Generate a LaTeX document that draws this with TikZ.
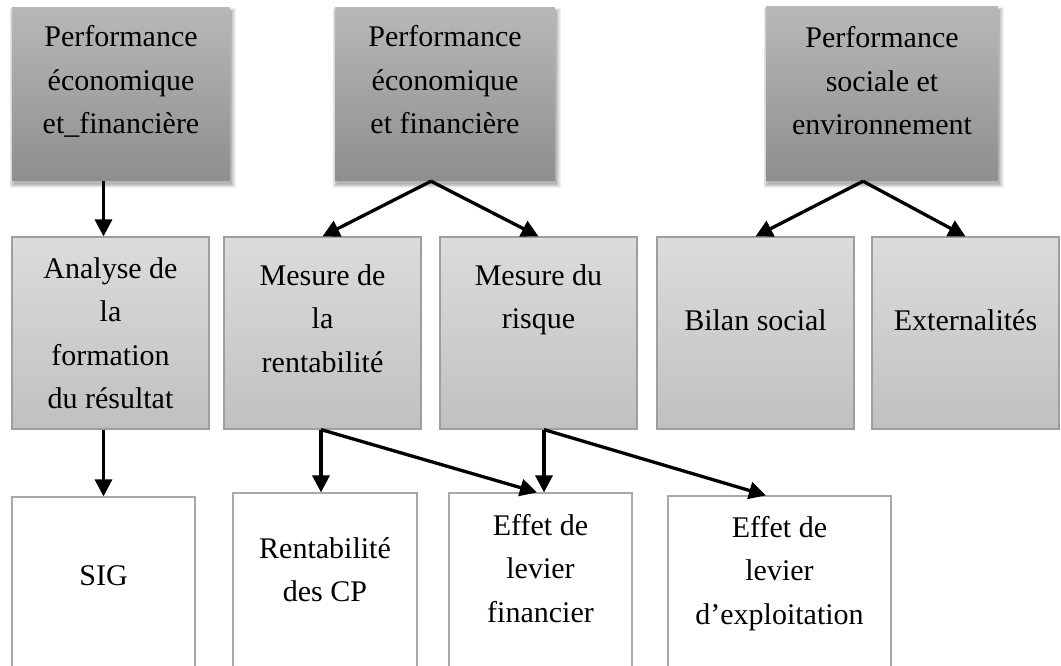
\documentclass[tikz,border=0pt]{standalone}
\usepackage{fontspec}
\setmainfont{Liberation Serif}
\usetikzlibrary{arrows.meta}

\definecolor{topA}{RGB}{184,184,184}
\definecolor{topB}{RGB}{142,142,142}
\definecolor{midA}{RGB}{220,220,220}
\definecolor{midB}{RGB}{192,192,192}
\definecolor{midLine}{RGB}{158,158,158}
\definecolor{lowLine}{RGB}{168,168,168}

\tikzset{
  topbox/.style={rectangle, inner sep=0pt, top color=topA, bottom color=topB, draw=none},
  midbox/.style={rectangle, inner sep=0pt, top color=midA, bottom color=midB, draw=midLine, line width=1.2pt},
  lowbox/.style={rectangle, inner sep=0pt, fill=white, draw=lowLine, line width=1.2pt},
  % labels are placed by the baseline of their last line
  lbl/.style={anchor=base, align=center, inner sep=0pt, font=\fontsize{30}{43.5}\selectfont},
  link/.style={line width=3.3pt, -{Triangle[length=17pt,width=17pt]}},
}

\newcommand{\softshadow}[4]{% x1 y1 x2 y2 of the box
  \foreach \g in {0,1,...,5}{
    \fill[black, opacity=0.055] (#1+1.5-\g*0.8, #2+3-\g*0.5) rectangle (#3+1.5+\g*0.8, #4+3+\g*0.8);
  }}

\begin{document}
\begin{tikzpicture}[x=1pt, y=-1pt]
\useasboundingbox (0,0) rectangle (1061,666);
\clip (0,0) rectangle (1061,666);

% upper row: soft shadows, then the shaded boxes
\softshadow{12}{8}{230}{181}
\softshadow{335}{8}{555}{181}
\softshadow{766}{7}{998}{181}
\node[topbox, minimum width=218pt, minimum height=173pt] (p1) at (121,94.5) {};
\node[topbox, minimum width=220pt, minimum height=173pt] (p2) at (445,94.5) {};
\node[topbox, minimum width=232pt, minimum height=174pt] (p3) at (882,94) {};

% middle row
\node[midbox, minimum width=197pt, minimum height=192pt] (m1) at (110.5,333) {};
\node[midbox, minimum width=197pt, minimum height=192pt] (m2) at (322.5,333) {};
\node[midbox, minimum width=197pt, minimum height=192pt] (m3) at (538.5,333) {};
\node[midbox, minimum width=197pt, minimum height=192pt] (m4) at (755.5,333) {};
\node[midbox, minimum width=187pt, minimum height=192pt] (m5) at (965.5,333) {};

% lower row (runs past the lower edge)
\node[lowbox, minimum width=183pt, minimum height=193pt] (b1) at (103.5,593.5) {};
\node[lowbox, minimum width=184pt, minimum height=197pt] (b2) at (325,591.5) {};
\node[lowbox, minimum width=183pt, minimum height=197pt] (b3) at (540.5,591.5) {};
\node[lowbox, minimum width=223pt, minimum height=194pt] (b4) at (779.5,593) {};

% labels
\node[lbl] (p1t) at (121,134) {Performance\\économique\\et\_financière};
\node[lbl] (p2t) at (445,134) {Performance\\économique\\et financière};
\node[lbl] (p3t) at (882,135) {Performance\\sociale et\\environnement};

\node[lbl] (m1t) at (110.5,408.5) {Analyse de\\la\\formation\\du résultat};
\node[lbl] (m2t) at (322.5,372) {Mesure de\\la\\rentabilité};
\node[lbl] (m3t) at (538.5,328.5) {Mesure du\\risque};
\node[lbl] (m4t) at (755.5,330) {Bilan social};
\node[lbl] (m5t) at (965.5,330) {Externalités};

\node[lbl] (b1t) at (103.5,585) {SIG};
\node[lbl] (b2t) at (325,601.5) {Rentabilité\\des CP};
\node[lbl] (b3t) at (540.5,622) {Effet de\\levier\\financier};
\node[lbl] (b4t) at (779.5,624) {Effet de\\levier\\d’exploitation};

% connectors
\draw[link] (p1.south -| b1.north) -- (m1.north -| b1.north);
\draw[link] ([xshift=-14pt]p2.south) -- (m2.north);
\draw[link] ([xshift=-14pt]p2.south) -- (m3.north);
\draw[link] ([xshift=-19pt]p3.south) -- (m4.north);
\draw[link] ([xshift=-19pt]p3.south) -- (m5.north);

\draw[link] (m1.south -| b1.north) -- (b1.north);
\draw[link] ([xshift=-1.5pt]m2.south) -- ([xshift=-1.5pt]m2.south |- b2.north);
\draw[link] ([xshift=-1.5pt]m2.south) -- ([xshift=-3.5pt]b3.north);
\draw[link] ([xshift=5.5pt]m3.south) -- ([xshift=5.5pt]m3.south |- b3.north);
\draw[link] ([xshift=5.5pt]m3.south) -- ([xshift=-13.5pt]b4.north);
\end{tikzpicture}
\end{document}
